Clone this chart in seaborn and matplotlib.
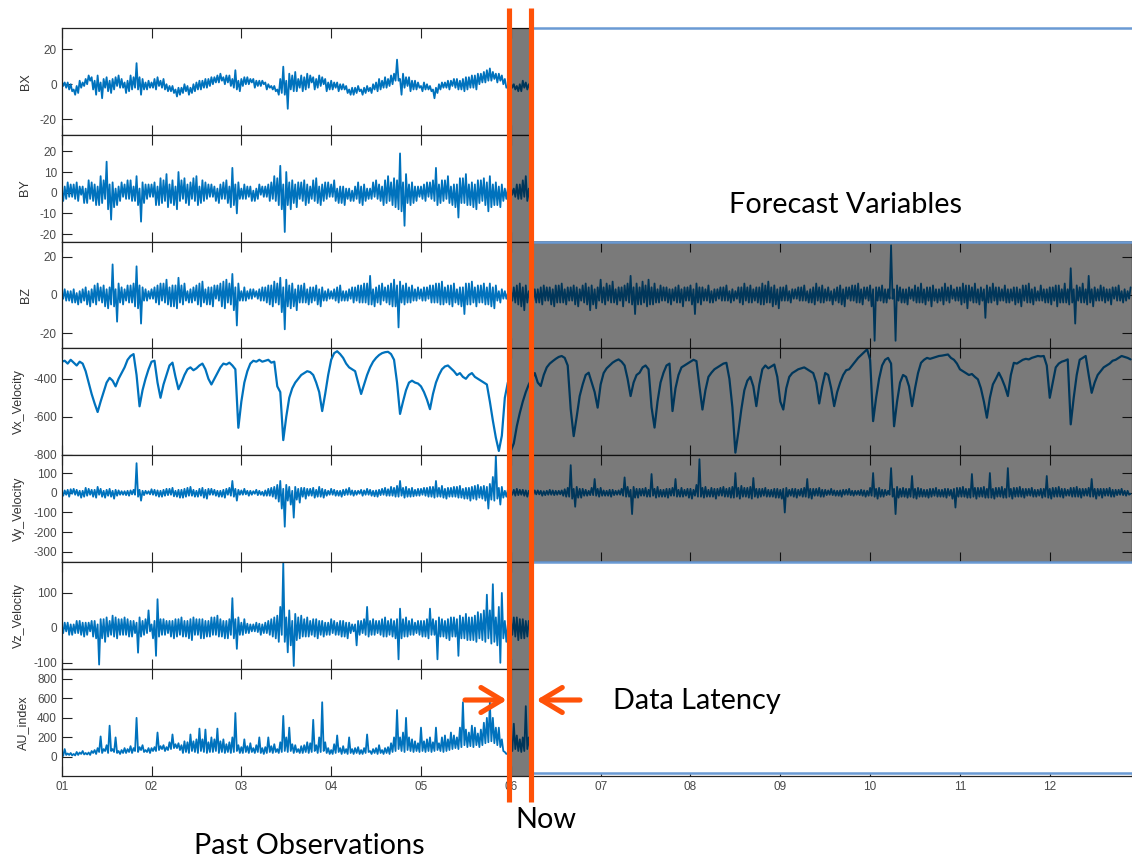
import numpy as np
import matplotlib
matplotlib.use("Agg")
import matplotlib.pyplot as plt
from matplotlib.patches import Rectangle, FancyArrowPatch
from matplotlib.lines import Line2D
from matplotlib import transforms
import seaborn as sns

# ---------------- data (starting at day 01) ----------------
T_START = 1.0
FINE = 1.0 / 60.0    # sampling of the noisy series (upper / lower swing of the trace)
COARSE = 1.0 / 30.0  # sampling of Vx

BX = [2, -1, 1, -2, 1, -3, 0, -4, -3, -6, -1, -5, 2, -2, 1, -1, 3, 0, 5, 2,
      4, -3, 2, -6, 5, -4, 1, -8, 3, -2, 4, -4, 2, -5, 3, -3, 4, -1, 5, -2,
      3, -2, 1, -5, 2, -4, 5, -3, 4, -2, 12, -3, 4, -6, 3, -3, 1, -3, 2, -2,
      1, -2, 3, -3, 4, -1, 2, -2, 3, -3, 0, -4, -1, -4, -1, -5, -3, -7, -2, -6,
      -2, -5, 0, -4, -1, -6, -2, -5, 0, -4, 1, -3, 2, -3, 2, -2, 3, -2, 3, -1,
      4, 0, 4, 1, 5, 1, 6, 2, 4, 0, 5, 1, 5, -1, 3, -2, 8, -3, 2, -4,
      3, -1, 4, 0, 4, 0, 3, 1, 3, -2, 2, -1, 2, -1, 2, 0, 1, -3, 0, -2,
      -1, -3, -1, -4, -3, -6, 3, -5, 10, -6, 2, -14, 6, -3, 5, -4, 7, -4, 3, -2,
      5, -4, 4, -3, 6, -2, 5, 1, 4, -3, 3, -2, 5, -1, 4, 0, 3, -4, 1, -3,
      2, -3, 1, -2, 1, -4, 0, -3, 0, -3, -1, -5, -3, -6, -2, -6, -2, -5, -1, -4,
      -3, -6, -2, -5, -1, -4, -2, -5, 0, -3, 1, -4, 3, -3, 2, -2, 4, -2, 3, -1,
      5, 0, 6, 2, 14, 2, 3, -6, 6, -2, 4, -1, 4, -4, 2, -3, 2, -3, 1, -2,
      -1, -4, 1, -3, 0, -3, -1, -4, -3, -8, -2, -5, 0, -3, 1, -2, 1, -2, 2, -3,
      2, -1, 3, -2, 3, -3, 2, -3, 3, -4, 4, -3, 4, -2, 5, -2, 5, -3, 6, 0,
      6, 1, 7, 1, 8, 2, 9, 2, 7, 3, 6, 1, 6, 2, 5, 0, 3, -2, -1, -5,
      1, -2, 0, -3, -1, -4, 0, -4, 2, -2, 1, -3, 0, -3]

BY = [0, -4, 3, -3, 5, -2, 4, -2, 4, -3, 5, -4, 3, -1, 3, -5, 2, -5, 6, -3,
      5, -4, 4, -6, 3, -6, 8, -5, 6, -3, 15, -8, 4, -13, 5, -7, 2, -6, 3, -4,
      5, -2, 4, -3, 6, -3, 6, -4, 3, -4, 8, -6, 2, -14, 5, -5, 4, -3, 4, -2,
      4, -2, 5, -6, 3, -6, 7, -5, 6, -4, 9, -7, 4, -5, 6, -6, 3, -8, 10, -4,
      6, -3, 7, -5, 4, -6, 5, -3, 7, -4, 8, -6, 3, -5, 6, -4, 5, -3, 4, -2,
      4, -2, 3, -4, 2, -5, 4, -3, 5, -3, 6, -5, 3, -7, 12, -6, 4, -10, 5, -3,
      2, -3, 4, -3, 3, -2, 3, -4, 1, -4, 2, -3, 4, -1, 3, -2, 3, -2, 4, -4,
      5, -3, 8, -4, 7, -6, 13, -8, 4, -19, 10, -6, 5, -8, 6, -5, 4, -7, 5, -3,
      5, -4, 6, -6, 4, -5, 3, -3, 6, -4, 7, -5, 3, -6, 4, -4, 5, -3, 5, -2,
      4, -2, 6, -4, 2, -5, 3, -5, 3, -6, 2, -3, 2, -4, 1, -4, 3, -3, 5, -5,
      3, -6, 4, -4, 2, -3, 2, -3, 5, -2, 6, -3, 4, -4, 3, -6, 6, -5, 8, -4,
      5, -6, 7, -7, 6, -8, 19, -9, 5, -16, 9, -5, 4, -6, 5, -5, 3, -4, 3, -2,
      3, -3, 4, -4, 5, -2, 5, -3, 6, -4, 12, -6, 4, -5, 6, -4, 6, -3, 8, -5,
      3, -6, 4, -7, 4, -12, 7, -5, 7, -5, 9, -6, 4, -6, 5, -7, 4, -8, 6, -5,
      6, -4, 7, -6, 5, -9, 8, -7, 4, -6, 5, -6, 3, -7, 4, -4, 2, -3, 2, -3,
      3, -1, 2, -2, 4, -3, 4, -3, 6, -2, 8, -4, 2, -5]

BZ = [1, -2, 3, -3, 2, -3, 2, -4, 3, -4, 1, -5, 2, -4, 3, -3, 4, -5, 2, -6,
      3, -4, 5, -5, 6, -3, 4, -4, 5, -6, 3, -7, 4, -5, 16, -6, 3, -14, 6, -4,
      4, -5, 3, -3, 5, -4, 5, -4, 6, -6, 15, -7, 5, -15, 4, -3, 3, -3, 2, -2,
      3, -2, 4, -4, 5, -5, 6, -3, 6, -4, 8, -5, 4, -6, 5, -6, 5, -7, 9, -4,
      5, -5, 6, -3, 2, -4, 3, -4, 4, -3, 5, -5, 6, -6, 7, -4, 3, -5, 4, -5,
      4, -6, 5, -2, 5, -3, 6, -6, 7, -7, 8, -4, 6, -5, 11, -8, 4, -16, 6, -3,
      2, -3, 4, -3, 2, -2, 3, -2, 3, -1, 2, -2, 3, -3, 4, -3, 4, -4, 5, -5,
      5, -6, 7, -4, 6, -5, 9, -9, 4, -18, 8, -6, 5, -7, 6, -6, 3, -8, 5, -4,
      5, -4, 6, -4, 3, -5, 4, -4, 4, -3, 5, -5, 3, -6, 4, -3, 2, -3, 3, -2,
      2, -2, 3, -3, 4, -4, 5, -3, 2, -3, 2, -3, 3, -2, 4, -4, 4, -3, 5, -4,
      5, -4, 6, -4, 6, -5, 10, -5, 3, -6, 4, -4, 5, -5, 6, -3, 4, -4, 5, -5,
      6, -6, 8, -6, 5, -17, 7, -4, 5, -5, 6, -4, 4, -4, 5, -3, 3, -3, 4, -2,
      3, -3, 4, -3, 4, -2, 5, -4, 5, -4, 6, -4, 6, -5, 7, -5, 4, -4, 5, -5,
      5, -6, 6, -4, 3, -5, 4, -6, 4, -10, 6, -5, 6, -5, 7, -4, 4, -6, 5, -4,
      5, -4, 6, -5, 4, -5, 6, -6, 4, -7, 5, -3, 2, -4, 3, -2, 2, -2, 1, -2,
      3, -3, 4, -4, 5, -5, 6, -6, 4, -8, 5, -4, 2, -3,
      # forecast period
      4, -3, 3, -4, 3, -4, 4, -5, 5, -3, 4, -3, 4, -5, 3, -6, 5, -4, 5, -4,
      6, -4, 3, -5, 4, -3, 4, -3, 5, -5, 4, -6, 3, -3, 5, -4, 6, -5, 4, -8,
      5, -5, 3, -7, 4, -3, 8, -4, 4, -5, 6, -3, 5, -4, 7, -4, 3, -5, 4, -3,
      4, -6, 5, -3, 6, -4, 10, -5, 4, -10, 6, -5, 4, -5, 7, -4, 5, -6, 8, -5,
      4, -5, 6, -4, 3, -4, 5, -3, 4, -3, 4, -4, 3, -5, 3, -3, 4, -4, 5, -4,
      3, -6, 4, -3, 4, -3, 5, -5, 3, -10, 6, -4, 4, -5, 4, -3, 3, -3, 5, -4,
      2, -4, 3, -3, 3, -2, 4, -3, 4, -3, 5, -3, 2, -4, 3, -3, 2, -2, 4, -4,
      4, -5, 6, -3, 4, -4, 5, -4, 3, -3, 4, -4, 4, -5, 6, -5, 5, -4, 7, -4,
      4, -6, 5, -5, 3, -7, 4, -3, 4, -3, 5, -3, 2, -4, 3, -2, 3, -2, 4, -3,
      4, -3, 5, -3, 2, -4, 3, -4, 4, -5, 6, -3, 4, -4, 5, -4, 3, -3, 4, -3,
      2, -5, 3, -3, 4, -4, 5, -5, 3, -6, 4, -2, 4, -3, 5, -3, 5, -4, 6, -4,
      3, -5, 4, -2, 4, -3, 5, -6, 3, -24, 4, -3, 4, -3, 5, -4, 3, -4, 3, -2,
      26, -2, 3, -24, 5, -3, 4, -4, 3, -4, 3, -5, 4, -2, 3, -3, 5, -4, 4, -4,
      6, -4, 3, -5, 4, -3, 4, -6, 5, -3, 3, -4, 3, -3, 4, -5, 6, -3, 4, -4,
      5, -2, 3, -3, 4, -3, 4, -5, 6, -4, 5, -7, 5, -3, 4, -4, 6, -4, 3, -5,
      4, -3, 3, -12, 5, -4, 4, -4, 6, -3, 4, -5, 4, -3, 3, -3, 5, -4, 3, -4,
      3, -3, 4, -5, 4, -4, 3, -6, 5, -3, 5, -4, 6, -4, 3, -5, 4, -3, 2, -3,
      5, -3, 3, -4, 3, -4, 4, -5, 4, -3, 5, -6, 5, -4, 3, -4, 6, -4, 3, -5,
      14, -4, 3, -15, 5, -3, 4, -4, 6, -4, 3, -5, 10, -4, 3, -6, 4, -3, 3, -3,
      5, -3, 4, -4, 3, -3, 3, -5, 4, -2, 4, -3, 5, -3, 2, -4, 3, -3, 2, -2, 4]

VX = [-310, -305, -320, -300, -315, -330, -310, -320, -360, -420,
      -480, -530, -575, -520, -470, -420, -395, -410, -440, -400,
      -370, -340, -300, -280, -270, -380, -545, -460, -400, -350,
      -310, -305, -420, -500, -430, -380, -330, -315, -390, -455,
      -420, -380, -350, -340, -355, -345, -330, -320, -350, -400,
      -430, -400, -370, -340, -320, -325, -315, -330, -350, -658,
      -520, -420, -360, -320, -305, -310, -300, -310, -305, -300,
      -315, -310, -440, -470, -723, -600, -500, -450, -420, -400,
      -380, -370, -360, -365, -380, -420, -470, -570, -480, -380,
      -300, -265, -255, -270, -290, -320, -340, -350, -360, -420,
      -480, -430, -380, -340, -310, -290, -275, -265, -260, -258,
      -270, -300, -420, -585, -520, -460, -420, -410, -420, -425,
      -440, -470, -510, -560, -480, -420, -380, -350, -335, -330,
      -345, -360, -380, -370, -390, -400, -380, -370, -390, -400,
      -410, -420, -430, -520, -620, -710, -780, -700, -500, -420,
      -780, -740, -650, -580, -520, -470, -430,
      # forecast period
      -400, -370, -420, -438, -380, -340, -320, -307, -295, -285,
      -280, -290, -330, -560, -702, -600, -491, -430, -380, -368,
      -420, -470, -552, -430, -370, -345, -330, -315, -305, -298,
      -310, -330, -400, -491, -420, -380, -368, -340, -330, -350,
      -550, -657, -520, -420, -368, -330, -320, -570, -450, -380,
      -340, -330, -320, -310, -300, -307, -440, -562, -460, -390,
      -368, -350, -340, -330, -320, -316, -400, -550, -789, -680,
      -560, -460, -410, -390, -440, -544, -430, -350, -330, -345,
      -335, -325, -390, -520, -562, -450, -390, -370, -360, -350,
      -345, -340, -350, -360, -370, -420, -530, -440, -370, -380,
      -450, -544, -470, -420, -380, -355, -350, -330, -310, -290,
      -275, -260, -245, -300, -623, -500, -400, -330, -300, -290,
      -320, -650, -520, -420, -380, -390, -440, -544, -450, -370,
      -316, -300, -290, -295, -290, -285, -280, -278, -275, -272,
      -290, -300, -320, -350, -360, -370, -380, -375, -390, -403,
      -450, -520, -605, -500, -430, -400, -368, -400, -440, -491,
      -380, -316, -320, -310, -300, -295, -298, -290, -285, -280,
      -282, -280, -330, -500, -420, -340, -320, -310, -305, -298,
      -640, -500, -380, -300, -290, -280, -380, -474, -420, -380,
      -360, -340, -330, -320, -305, -300, -290, -280, -285, -290, -298]

VY = [5, -15, 12, -10, 15, -20, 18, -5, 20, -10, 15, -15, 10, -25, 10, -20, 25, -15, 20, -10,
      15, -20, 15, -25, 30, -10, 20, -20, 10, -25, 15, -15, 20, -20, 10, -30, 15, -15, 12, -10,
      8, -10, 8, -12, 10, -15, 12, -8, 15, -10, 150, -20, 15, -40, 10, -12, 10, -5, 8, -8,
      18, -10, 15, -15, 12, -20, 10, -20, 15, -15, 20, -12, 20, -10, 25, -18, 10, -20, 15, -25,
      15, -25, 20, -20, 25, -15, 30, -15, 15, -20, 10, -20, 20, -15, 25, -25, 15, -30, 20, -10,
      20, -10, 15, -15, 10, -20, 10, -20, 15, -25, 20, -10, 25, -15, 60, -20, 20, -40, 15, -10,
      12, -10, 20, -8, 10, -15, 10, -10, 8, -5, 15, -12, 10, -10, 5, -15, 12, -15, 20, -15,
      25, -20, 30, -30, 40, -45, 60, -80, 20, -172, 40, -40, 30, -60, 10, -126, 30, -35, 20, -50,
      25, -20, 25, -30, 20, -15, 20, -15, 25, -25, 15, -20, 30, -20, 20, -25, 15, -15, 10, -10,
      20, -10, 15, -15, 10, -15, 10, -20, 15, -12, 18, -10, 25, -10, 12, -15, 10, -10, 10, -5,
      15, -15, 12, -10, 20, -10, 15, -15, 10, -18, 12, -20, 15, -12, 20, -10, 25, -15, 18, -15,
      30, -15, 25, -20, 35, -20, 60, -15, 25, -25, 30, -20, 20, -20, 25, -18, 15, -15, 20, -15,
      20, -10, 25, -15, 25, -20, 30, -20, 30, -25, 60, -20, 25, -20, 35, -25, 20, -30, 25, -20,
      25, -20, 30, -20, 30, -25, 35, -25, 20, -30, 25, -30, 25, -40, 30, -30, 35, -35, 40, -25,
      30, -30, 35, -40, 30, -80, 45, -35, 80, -40, 190, -30, 25, -60, 30, -25, 10, -20, 15, -10,
      10, -10, 15, -15, 20, -12, 15, -10, 15, -15, 12, -20, 10, -10,
      # forecast period
      10, -10, 12, -8, 12, -8, 10, -15, 8, -12, 10, -10, 15, -10, 12, -12, 10, -10, 10, -8,
      12, -15, 18, -20, 25, -20, 140, -30, 20, -71, 30, -25, 20, -25, 20, -15, 15, -15, 10, -12,
      25, -12, 70, -15, 20, -20, 25, -15, 12, -15, 10, -15, 15, -20, 15, -12, 10, -10, 12, -10,
      20, -15, 78, -20, 30, -20, 15, -108, 30, -25, 20, -25, 20, -15, 20, -15, 25, -20, 15, -20,
      95, -15, 20, -25, 30, -20, 15, -20, 15, -20, 20, -25, 20, -15, 25, -15, 70, -20, 15, -20,
      25, -20, 15, -15, 20, -25, 20, -30, 15, -15, 40, -20, 170, -20, 25, -25, 30, -20, 15, -20,
      25, -20, 20, -30, 20, -15, 25, -15, 30, -20, 20, -20, 25, -25, 30, -25, 100, -20, 25, -30,
      35, -20, 25, -20, 25, -25, 30, -30, 75, -20, 20, -25, 20, -20, 20, -15, 25, -20, 15, -20,
      15, -20, 20, -25, 20, -25, 15, -30, 20, -100, 25, -20, 15, -15, 20, -20, 20, -25, 15, -15,
      20, -20, 25, -20, 70, -25, 20, -30, 20, -15, 20, -15, 25, -20, 15, -20, 15, -12, 12, -10,
      20, -12, 12, -15, 10, -15, 12, -20, 15, -10, 15, -10, 20, -12, 10, -15, 10, -10, 10, -12,
      15, -15, 12, -20, 10, -15, 25, -15, 100, -20, 20, -30, 25, -20, 15, -20, 15, -12, 10, -10,
      125, -20, 20, -108, 30, -25, 20, -20, 25, -20, 20, -25, 20, -20, 85, -25, 20, -30, 25, -20,
      20, -20, 15, -20, 15, -25, 20, -20, 20, -15, 25, -20, 15, -20, 15, -20, 20, -25, 20, -15,
      15, -30, 20, -75, 25, -20, 25, -20, 30, -20, 20, -25, 20, -25, 95, -20, 25, -30, 25, -20,
      25, -20, 30, -25, 20, -25, 100, -25, 20, -30, 25, -20, 25, -20, 30, -25, 20, -25, 125, -20,
      20, -30, 25, -20, 25, -20, 30, -20, 20, -25, 20, -15, 20, -15, 25, -20, 15, -20, 15, -15,
      20, -25, 20, -20, 85, -25, 20, -30, 25, -20, 25, -20, 30, -20, 20, -25, 20, -15, 15, -15,
      25, -20, 25, -20, 30, -20, 20, -25, 20, -15, 20, -15, 25, -20, 70, -20, 20, -30, 20, -15,
      20, -25, 20, -15, 20, -15, 25, -20, 15, -20, 15, -12, 15, -10, 20, -12, 10, -15, 10, -10, -5]

VZ = [5, -15, 15, -10, 15, -20, 10, -20, 10, -15, 20, -15, 20, -20, 15, -25, 15, -20, 15, -10,
      20, -25, 20, -30, 10, -105, 25, -30, 25, -40, 30, -25, 20, -20, 35, -25, 30, -30, 25, -20,
      25, -20, 30, -20, 25, -25, 20, -25, 20, -15, 15, -71, 30, -25, 20, -20, 25, -15, 50, -10,
      10, -30, 20, -80, 82, -25, 25, -20, 25, -20, 20, -15, 20, -25, 20, -30, 25, -25, 25, -20,
      30, -25, 20, -25, 20, -30, 25, -35, 30, -20, 25, -20, 25, -30, 25, -30, 20, -25, 20, -25,
      30, -20, 30, -20, 35, -25, 25, -25, 20, -30, 20, -30, 25, -20, 85, -30, 25, -60, 30, -20,
      15, -20, 25, -15, 12, -15, 10, -10, 10, -10, 15, -12, 12, -20, 10, -15, 15, -15, 20, -20,
      25, -25, 30, -30, 35, -40, 60, -20, 186, -40, 30, -70, 50, -50, 20, -109, 40, -35, 30, -30,
      35, -25, 25, -25, 30, -25, 20, -20, 25, -25, 25, -30, 20, -20, 20, -25, 15, -20, 15, -20,
      25, -15, 20, -20, 15, -20, 20, -25, 20, -25, 15, -30, 15, -15, 10, -10, 10, -50, 20, -20,
      20, -15, 25, -20, 60, -25, 20, -20, 25, -20, 20, -15, 20, -20, 25, -25, 30, -25, 20, -20,
      25, -25, 20, -30, 25, -90, 55, -30, 25, -25, 30, -25, 20, -20, 25, -20, 15, -15, 20, -20,
      20, -25, 20, -25, 25, -30, 55, -20, 25, -20, 20, -90, 30, -25, 25, -25, 20, -30, 25, -35,
      30, -25, 30, -25, 25, -80, 35, -30, 30, -30, 40, -35, 30, -35, 30, -35, 35, -40, 45, -30,
      40, -35, 50, -40, 95, -30, 50, -45, 125, -40, 30, -50, 60, -100, 100, -30, 20, -40, 10, -15,
      25, -20, 30, -25, 30, -35, 25, -30, 25, -30, 20, -25, 20, -15]

AU = [30, 10, 80, 20, 35, 20, 40, 15, 30, 15, 50, 20, 45, 30, 60, 25, 40, 25, 45, 20,
      60, 40, 70, 30, 90, 50, 210, 40, 80, 60, 120, 40, 320, 60, 80, 50, 200, 40, 60, 30,
      70, 40, 90, 40, 80, 50, 110, 40, 90, 60, 400, 50, 100, 70, 120, 50, 70, 50, 90, 40,
      90, 60, 100, 60, 250, 70, 110, 80, 120, 60, 100, 70, 150, 80, 230, 90, 130, 90, 140, 70,
      120, 40, 160, 50, 150, 40, 230, 60, 160, 50, 180, 40, 290, 60, 180, 50, 280, 40, 150, 50,
      200, 50, 180, 60, 290, 40, 160, 50, 180, 40, 130, 50, 150, 40, 200, 50, 450, 60, 120, 40,
      100, 40, 180, 50, 110, 40, 140, 50, 90, 40, 120, 50, 200, 40, 90, 30, 100, 40, 200, 50,
      110, 40, 130, 50, 80, 40, 150, 50, 420, 60, 200, 50, 300, 60, 130, 40, 120, 50, 80, 40,
      110, 40, 120, 50, 150, 40, 140, 50, 380, 60, 120, 40, 200, 50, 560, 60, 150, 40, 90, 30,
      70, 30, 130, 40, 220, 50, 90, 30, 110, 40, 80, 30, 200, 40, 80, 30, 90, 40, 100, 30,
      70, 30, 90, 40, 230, 50, 60, 30, 80, 40, 90, 30, 120, 40, 70, 30, 90, 40, 100, 30,
      140, 50, 200, 60, 480, 80, 200, 60, 250, 50, 400, 70, 200, 60, 180, 50, 160, 60, 140, 50,
      300, 60, 160, 50, 180, 60, 200, 50, 150, 60, 300, 70, 140, 60, 200, 50, 220, 60, 180, 70,
      250, 80, 220, 90, 200, 80, 300, 100, 560, 120, 280, 100, 250, 110, 320, 100, 300, 120, 240, 100,
      280, 120, 350, 140, 400, 150, 560, 160, 400, 140, 300, 120, 300, 100, 180, 60, 50, 30, 40, 25,
      120, 60, 340, 80, 220, 60, 180, 50, 200, 60, 520, 80, 200, 60]

PANEL_NAMES = ["BX", "BY", "BZ", "Vx_Velocity", "Vy_Velocity", "Vz_Velocity", "AU_index"]
PANEL_SERIES = [BX, BY, BZ, VX, VY, VZ, AU]
PANEL_STEPS = [FINE, FINE, FINE, COARSE, FINE, FINE, FINE]
PANEL_YLIMS = [(-28.7, 32.2), (-23.6, 28.1), (-28, 28), (-803, -240), (-352, 190), (-118, 188), (-196, 900)]
PANEL_YTICKS = [[-20, 0, 20], [-20, -10, 0, 10, 20], [-20, 0, 20], [-800, -600, -400],
                [-300, -200, -100, 0, 100], [-100, 0, 100], [0, 200, 400, 600, 800]]
XTICKS = list(range(1, 13))
XTICK_LABELS = ["01", "02", "03", "04", "05", "06", "07", "08", "09", "10", "11", "12"]
X_MAX = 12.91
LATENCY_START, NOW_T = 5.98, 6.23

# ---------------- style ----------------
sns.set_theme(style="ticks")
plt.rcParams["font.family"] = ["Liberation Sans", "DejaVu Sans"]
plt.rcParams["axes.unicode_minus"] = False

W, H = 1132, 858
fig = plt.figure(figsize=(W / 100, H / 100), dpi=100)
fig.patch.set_facecolor("white")

LINE_BLUE = "#0072BD"
ORANGE = "#FF5208"
FRAME_BLUE = "#6A9AD4"
ax_left, ax_right = 61.7 / W, 1131.5 / W
top_px, bot_px = 27.7, 776.0
ph = (bot_px - top_px) / 7

axes = []
for k, (name, vals, step, ylim, yt) in enumerate(zip(PANEL_NAMES, PANEL_SERIES, PANEL_STEPS,
                                                      PANEL_YLIMS, PANEL_YTICKS)):
    y_top = top_px + k * ph
    ax = fig.add_axes([ax_left, 1 - (y_top + ph) / H, ax_right - ax_left, ph / H])
    ax.set_facecolor("white")
    t = T_START + step * np.arange(len(vals))
    lw = 1.6 if step == COARSE else 1.3
    sns.lineplot(x=t, y=np.asarray(vals, dtype=float), ax=ax, color=LINE_BLUE, linewidth=lw, sort=False)
    ax.set_xlim(1, X_MAX)
    ax.set_ylim(*ylim)
    ax.set_yticks(yt)
    ax.set_yticklabels([str(v) for v in yt])
    ax.set_xticks(XTICKS)
    ax.set_xticklabels(XTICK_LABELS)
    ax.set_xlabel("")
    ax.set_ylabel(name, fontsize=9, color="#333333", labelpad=6)
    ax.tick_params(axis="both", direction="in", top=True, right=True, length=7, width=0.8,
                   color="#222222", labelsize=8.5, labelcolor="#4a4a4a", pad=3.5)
    if k < 6:
        ax.tick_params(labelbottom=False)
    for s in ax.spines.values():
        s.set_linewidth(0.9)
        s.set_color("#222222")
    axes.append(ax)

pos = [a.get_position() for a in axes]
blend = transforms.blended_transform_factory(axes[-1].transData, fig.transFigure)
px = 1.0 / H
x_end = X_MAX + 0.3

# latency band (all panels)
fig.add_artist(Rectangle((LATENCY_START, pos[-1].y0), NOW_T - LATENCY_START, pos[0].y1 - pos[-1].y0,
                         transform=blend, facecolor="black", alpha=0.52, edgecolor="none", zorder=10))
# white covers for the variables that are not forecast
fig.add_artist(Rectangle((NOW_T, pos[1].y0), x_end - NOW_T, pos[0].y1 - pos[1].y0 + 2 * px,
                         transform=blend, facecolor="white", edgecolor="none", zorder=10))
fig.add_artist(Rectangle((NOW_T, pos[-1].y0 + 3 * px), x_end - NOW_T, pos[5].y1 - pos[-1].y0 - 3 * px,
                         transform=blend, facecolor="white", edgecolor="none", zorder=10))
# grey region for the forecast variables
fig.add_artist(Rectangle((NOW_T, pos[4].y0), x_end - NOW_T, pos[2].y1 - pos[4].y0,
                         transform=blend, facecolor="black", alpha=0.52, edgecolor="none", zorder=10))
# blue frame lines
for yy in (pos[0].y1, pos[2].y1, pos[4].y0, pos[-1].y0 + 3 * px):
    fig.add_artist(Line2D([NOW_T, x_end], [yy, yy], transform=blend, color=FRAME_BLUE, lw=1.8, zorder=11))

# orange latency / now lines
for xv in (LATENCY_START, NOW_T):
    fig.add_artist(Line2D([xv, xv], [1 - 8 * px, 1 - 802 * px], transform=blend, color=ORANGE,
                          lw=3.7, zorder=12, solid_capstyle="butt"))

# latency arrows
arrow_y = 1 - 700 * px
for xa, xb in ((5.49, 5.955), (6.77, 6.285)):
    fig.add_artist(FancyArrowPatch((xa, arrow_y), (xb, arrow_y), transform=blend,
                                   arrowstyle="->,head_length=0.75,head_width=0.45", mutation_scale=20,
                                   lw=3.7, color=ORANGE, shrinkA=0, shrinkB=0, zorder=12))

text_kw = dict(transform=blend, ha="center", va="baseline", fontsize=20.8,
               family=["Lato", "DejaVu Sans"], color="black", zorder=13)
fig.text(9.73, 1 - 213 * px, "Forecast Variables", **text_kw)
fig.text(8.07, 1 - 709 * px, "Data Latency", **text_kw)
fig.text(6.39, 1 - 828 * px, "Now", **text_kw)
fig.text(3.76, 1 - 854 * px, "Past Observations", **text_kw)

fig.savefig("out.png", dpi=100)
